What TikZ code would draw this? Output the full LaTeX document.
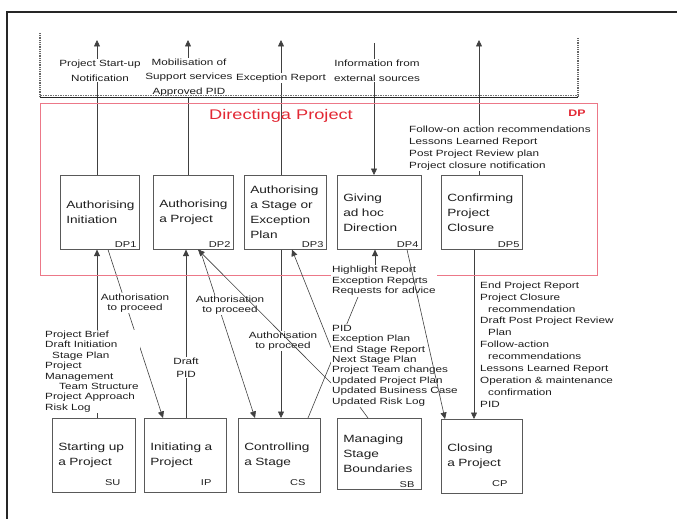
\documentclass[tikz,border=0pt]{standalone}
\usepackage{fontspec}
\setmainfont{Liberation Sans}[FakeStretch=1.3]
\usetikzlibrary{arrows.meta,calc}
\pgfdeclarelayer{background}
\pgfsetlayers{background,main}
\definecolor{dpred}{RGB}{226,40,52}
\definecolor{dpframe}{RGB}{236,120,136}
\definecolor{ink}{RGB}{30,30,30}
\begin{document}
\begin{tikzpicture}[x=1pt,y=-1pt,
  font=\fontsize{9}{10.4}\selectfont, text=ink,
  procbox/.style={draw=black!65, line width=0.6pt, minimum height=74pt,
    inner xsep=6pt, inner ysep=0pt, align=left,
    font=\fontsize{10.5}{15}\selectfont, anchor=north west},
  boxid/.style={font=\fontsize{8.5}{8.5}\selectfont, inner sep=1pt, anchor=south east},
  lbl/.style={fill=white, inner sep=1pt, align=center},
  lbll/.style={fill=white, inner sep=1pt, align=left, anchor=west},
  flow/.style={draw=black!75, line width=0.6pt, -{Triangle[length=6.5pt,width=6pt]}},
]
\useasboundingbox (0,0) rectangle (677,519);

% page frame
\draw[line width=1.2pt, black!85] (7,519) -- (7,12) -- (677,12);

% Directing a Project area
\draw[dpframe, line width=0.8pt] (40,103) rectangle (597,275);
\node[font=\fontsize{14}{14}\selectfont, text=dpred] (title) at (281,116) {Directinga Project};
\node[font=\bfseries\fontsize{9.5}{10}\selectfont, text=dpred] (dptag) at (577,113) {DP};

% Directing processes
\node[procbox, text width=67pt] (DP1) at (60,175) {Authorising\\Initiation};
\node[procbox, text width=68pt] (DP2) at (153,175) {Authorising\\a Project};
\node[procbox, text width=70pt] (DP3) at (244,175) {Authorising\\a Stage or\\Exception\\Plan};
\node[procbox, text width=72pt] (DP4) at (337,175) {Giving\\ad hoc\\Direction};
\node[procbox, text width=69pt] (DP5) at (441,175) {Confirming\\Project\\Closure};
\node[boxid] (DP1id) at ([xshift=-2pt,yshift=1pt]DP1.south east) {DP1};
\node[boxid] (DP2id) at ([xshift=-2pt,yshift=1pt]DP2.south east) {DP2};
\node[boxid] (DP3id) at ([xshift=-2pt,yshift=1pt]DP3.south east) {DP3};
\node[boxid] (DP4id) at ([xshift=-2pt,yshift=1pt]DP4.south east) {DP4};
\node[boxid] (DP5id) at ([xshift=-2pt,yshift=1pt]DP5.south east) {DP5};

% Managing processes
\node[procbox, text width=71pt] (SU) at (52,418) {Starting up\\a Project};
\node[procbox, text width=70pt] (IP) at (144,418) {Initiating a\\Project};
\node[procbox, text width=70pt] (CS) at (238,418) {Controlling\\a Stage};
\node[procbox, text width=72pt, minimum height=71pt] (SB) at (337,418) {Managing\\Stage\\Boundaries};
\node[procbox, text width=69pt] (CP) at (441,419) {Closing\\a Project};
\node[boxid] (SUid) at ([xshift=-14pt,yshift=6pt]SU.south east) {SU};
\node[boxid] (IPid) at ([xshift=-14pt,yshift=6pt]IP.south east) {IP};
\node[boxid] (CSid) at ([xshift=-14pt,yshift=6pt]CS.south east) {CS};
\node[boxid] (SBid) at ([xshift=-6pt,yshift=1pt]SB.south east) {SB};
\node[boxid] (CPid) at ([xshift=-14pt,yshift=6pt]CP.south east) {CP};

% free ends above the ruler
\coordinate (tipA) at (97,40);
\coordinate (tipB) at (188,40);
\coordinate (tipC) at (281,40);
\coordinate (srcD) at (374,43);
\coordinate (tipE) at (479,40);

% flow labels
\node[lbl, font=\fontsize{9}{15}\selectfont] (outA) at (100,70.5) {Project Start-up\\Notification};
\node[lbl, font=\fontsize{9}{14.5}\selectfont] (outB) at (189,77.5) {Mobilisation of\\Support services\\Approved PID};
\node[lbl] (outC) at (281,78) {Exception Report};
\node[lbl, font=\fontsize{9}{15}\selectfont] (inD) at (377,70.5) {Information from\\external sources};
\node[lbll, font=\fontsize{9}{12}\selectfont] (outE) at (408,148) {Follow-on action recommendations\\Lessons Learned Report\\Post Project Review plan\\Project closure notification};

\node[lbll] (suL) at (44,371.5) {Project Brief\\Draft Initiation\\\hspace*{7pt}Stage Plan\\Project\\Management\\\hspace*{14pt}Team Structure\\Project Approach\\Risk Log};
\node[lbl, font=\fontsize{9}{10.5}\selectfont] (authA) at (135,303) {Authorisation\\to proceed};
\node[lbl, font=\fontsize{9}{10.5}\selectfont] (authB) at (230,305) {Authorisation\\to proceed};
\node[lbl, font=\fontsize{9}{10.5}\selectfont] (authC) at (283,341) {Authorisation\\to proceed};
\node[lbl, font=\fontsize{9}{13}\selectfont] (dpid) at (186,367.5) {Draft\\PID};
\node[lbll, font=\fontsize{9}{10.5}\selectfont] (HL) at (331,281) {Highlight Report\\Exception Reports\\Requests for advice};
\node[lbll] (PIDL) at (331,365.5) {PID\\Exception Plan\\End Stage Report\\Next Stage Plan\\Project Team changes\\Updated Project Plan\\Updated Business Case\\Updated Risk Log};
\node[lbll, font=\fontsize{9}{11.9}\selectfont] (CPL) at (479,344.5) {End Project Report\\Project Closure\\\hspace*{8pt}recommendation\\Draft Post Project Review\\\hspace*{8pt}Plan\\Follow-action\\\hspace*{8pt}recommendations\\Lessons Learned Report\\Operation \& maintenance\\\hspace*{8pt}confirmation\\PID};

% connectors running behind their labels
\begin{pgfonlayer}{background}
  \draw[flow] ([xshift=37pt]DP1.north west) -- (tipA);
  \draw[flow] ([xshift=35pt]DP2.north west) -- (tipB);
  \draw[flow] ([xshift=37pt]DP3.north west) -- (tipC);
  \draw[flow] (srcD) -- ([xshift=37pt]DP4.north west);
  \draw[flow] ([xshift=38pt]DP5.north west) -- (tipE);

  \draw[flow] ([xshift=45pt]SU.north west) -- ([xshift=37pt]DP1.south west);
  \draw[flow] ([xshift=48pt]DP1.south west) -- ([xshift=19pt]IP.north west);
  \draw[flow] ([xshift=42pt]IP.north west) -- ([xshift=33pt]DP2.south west);
  \draw[flow] ([xshift=47pt]DP2.south west) -- ([xshift=17pt]CS.north west);
  \draw[flow] ([xshift=37pt]DP3.south west) -- ([xshift=43pt]CS.north west);

  \draw[draw=black!75, line width=0.6pt] ([xshift=70pt]CS.north west) -- ([xshift=27pt]HL.south west);
  \draw[flow] ([xshift=38pt]DP4.south west |- HL.north) -- ([xshift=38pt]DP4.south west);
  \draw[draw=black!75, line width=0.6pt] ([xshift=29pt]PIDL.south west) -- ([xshift=31pt]SB.north west);
  \draw[flow] ([xshift=33pt]DP5.south west) -- ([xshift=33pt]CP.north west);
\end{pgfonlayer}

% connectors drawn across the labels
\draw[flow] ([yshift=-17.5pt]PIDL.west) -- ([xshift=45pt]DP2.south west);
\draw[flow] ([yshift=18pt]PIDL.west) -- ([xshift=48pt]DP3.south west);
\draw[flow] ([xshift=70pt]DP4.south west) -- ([xshift=4pt]CP.north west);

% boundary ruler
\draw[line width=1pt, black!85] (40,97.5) -- (578,97.5);
\draw[line width=0.8pt, black!55, dash pattern=on 1.5pt off 1pt] (40,95.5) -- (578,95.5);
\draw[line width=1.6pt, black!60, dash pattern=on 1pt off 0.8pt] (40,33) -- (40,97);
\draw[line width=1.6pt, black!60, dash pattern=on 1pt off 0.8pt] (578,38) -- (578,97);
\end{tikzpicture}
\end{document}
